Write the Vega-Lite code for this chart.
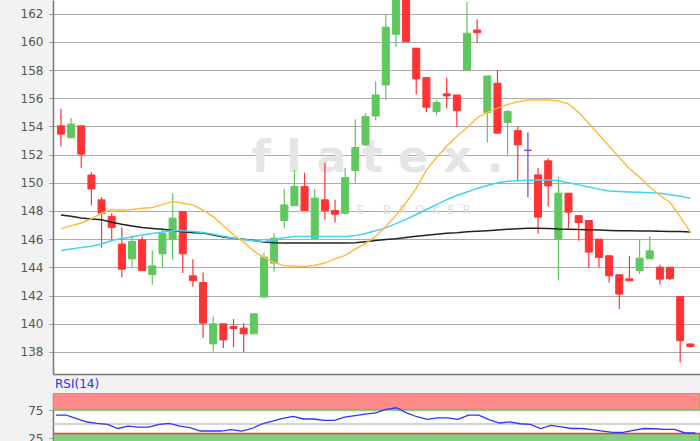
{
  "$schema": "https://vega.github.io/schema/vega-lite/v6.json",
  "background": "#f2f2f2",
  "padding": 0,
  "spacing": 4,
  "config": {
    "view": {"stroke": null, "fill": "white"},
    "axis": {"labelFont": "DejaVu Sans", "labelFontSize": 12, "labelColor": "#555555", "tickColor": "#999999", "tickSize": 4, "labelPadding": 6, "domainColor": "#777777", "domainWidth": 1.5, "title": null, "labelOverlap": false},
    "axisY": {"minExtent": 53, "maxExtent": 53},
    "axisX": {"minExtent": 0, "maxExtent": 0}
  },
  "datasets": {
    "ohlc": [
      {"i":0,"open":154.04,"high":155.26,"low":152.6,"close":153.45,"ma_short":146.73,"ma_mid":145.19,"ma_long":147.72,"rsi":66},
      {"i":1,"open":153.2,"high":154.6,"low":153.16,"close":154.16,"ma_short":146.95,"ma_mid":145.3,"ma_long":147.62,"rsi":66},
      {"i":2,"open":154.04,"high":154.04,"low":151.04,"close":152.03,"ma_short":147.15,"ma_mid":145.4,"ma_long":147.5,"rsi":59.5},
      {"i":3,"open":150.55,"high":150.75,"low":148.4,"close":149.56,"ma_short":147.45,"ma_mid":145.5,"ma_long":147.43,"rsi":53.6},
      {"i":4,"open":148.79,"high":148.98,"low":145.4,"close":147.84,"ma_short":147.84,"ma_mid":145.65,"ma_long":147.37,"rsi":51},
      {"i":5,"open":147.6,"high":147.84,"low":145.95,"close":146.82,"ma_short":148.1,"ma_mid":145.9,"ma_long":147.2,"rsi":49.4},
      {"i":6,"open":145.65,"high":146.82,"low":143.3,"close":143.87,"ma_short":148.05,"ma_mid":146.05,"ma_long":147.05,"rsi":42},
      {"i":7,"open":144.6,"high":146.3,"low":144.01,"close":145.83,"ma_short":148.1,"ma_mid":146.15,"ma_long":146.93,"rsi":46.4},
      {"i":8,"open":145.95,"high":146.18,"low":143.77,"close":143.77,"ma_short":148.2,"ma_mid":146.3,"ma_long":146.82,"rsi":44.6},
      {"i":9,"open":143.49,"high":145.2,"low":142.76,"close":144.1,"ma_short":148.24,"ma_mid":146.4,"ma_long":146.76,"rsi":44.6},
      {"i":10,"open":144.96,"high":146.66,"low":144.01,"close":146.42,"ma_short":148.45,"ma_mid":146.5,"ma_long":146.7,"rsi":49.4},
      {"i":11,"open":146.0,"high":149.26,"low":144.5,"close":147.49,"ma_short":148.67,"ma_mid":146.62,"ma_long":146.62,"rsi":51},
      {"i":12,"open":147.96,"high":147.96,"low":143.6,"close":144.96,"ma_short":148.55,"ma_mid":146.6,"ma_long":146.53,"rsi":46.4},
      {"i":13,"open":143.4,"high":144.58,"low":142.64,"close":143.06,"ma_short":148.43,"ma_mid":146.55,"ma_long":146.45,"rsi":43.4},
      {"i":14,"open":142.92,"high":143.63,"low":138.98,"close":140.04,"ma_short":148.05,"ma_mid":146.47,"ma_long":146.43,"rsi":37.5},
      {"i":15,"open":138.57,"high":140.51,"low":138.03,"close":139.99,"ma_short":147.6,"ma_mid":146.35,"ma_long":146.3,"rsi":37.5},
      {"i":16,"open":139.99,"high":139.99,"low":138.27,"close":138.85,"ma_short":146.95,"ma_mid":146.2,"ma_long":146.16,"rsi":37.5},
      {"i":17,"open":139.8,"high":140.33,"low":138.34,"close":139.66,"ma_short":146.3,"ma_mid":146.07,"ma_long":146.07,"rsi":40},
      {"i":18,"open":139.69,"high":140.04,"low":137.99,"close":139.28,"ma_short":145.8,"ma_mid":145.97,"ma_long":146.0,"rsi":37.5},
      {"i":19,"open":139.28,"high":140.7,"low":139.28,"close":140.7,"ma_short":145.15,"ma_mid":145.88,"ma_long":145.9,"rsi":42},
      {"i":20,"open":141.89,"high":145.05,"low":141.89,"close":144.72,"ma_short":144.7,"ma_mid":145.83,"ma_long":145.8,"rsi":50.5},
      {"i":21,"open":144.3,"high":146.43,"low":143.7,"close":146.07,"ma_short":144.35,"ma_mid":145.95,"ma_long":145.75,"rsi":55},
      {"i":22,"open":147.32,"high":149.55,"low":146.78,"close":148.43,"ma_short":144.12,"ma_mid":146.1,"ma_long":145.72,"rsi":60},
      {"i":23,"open":148.38,"high":150.9,"low":148.38,"close":149.73,"ma_short":144.1,"ma_mid":146.18,"ma_long":145.72,"rsi":63.6},
      {"i":24,"open":149.73,"high":150.72,"low":148.03,"close":148.03,"ma_short":144.06,"ma_mid":146.18,"ma_long":145.72,"rsi":59},
      {"i":25,"open":146.02,"high":149.55,"low":146.02,"close":148.91,"ma_short":144.15,"ma_mid":146.18,"ma_long":145.72,"rsi":59},
      {"i":26,"open":148.79,"high":151.4,"low":147.37,"close":148.03,"ma_short":144.3,"ma_mid":146.18,"ma_long":145.72,"rsi":56.6},
      {"i":27,"open":148.03,"high":148.79,"low":147.18,"close":147.77,"ma_short":144.6,"ma_mid":146.18,"ma_long":145.72,"rsi":56.6},
      {"i":28,"open":147.84,"high":151.04,"low":147.84,"close":150.37,"ma_short":144.85,"ma_mid":146.18,"ma_long":145.72,"rsi":62.5},
      {"i":29,"open":150.87,"high":154.51,"low":150.01,"close":152.5,"ma_short":145.3,"ma_mid":146.25,"ma_long":145.75,"rsi":65},
      {"i":30,"open":152.69,"high":154.94,"low":152.6,"close":154.7,"ma_short":145.7,"ma_mid":146.4,"ma_long":145.82,"rsi":67.5},
      {"i":31,"open":154.74,"high":157.18,"low":154.46,"close":156.23,"ma_short":146.2,"ma_mid":146.6,"ma_long":145.9,"rsi":70},
      {"i":32,"open":156.94,"high":161.9,"low":155.88,"close":161.04,"ma_short":146.9,"ma_mid":146.8,"ma_long":145.97,"rsi":76},
      {"i":33,"open":160.54,"high":164.6,"low":159.66,"close":163.9,"ma_short":147.7,"ma_mid":147.1,"ma_long":146.03,"rsi":79},
      {"i":34,"open":164.2,"high":164.5,"low":160.01,"close":160.01,"ma_short":148.6,"ma_mid":147.4,"ma_long":146.12,"rsi":70},
      {"i":35,"open":159.55,"high":159.55,"low":156.28,"close":157.37,"ma_short":149.6,"ma_mid":147.75,"ma_long":146.2,"rsi":63},
      {"i":36,"open":157.46,"high":157.46,"low":155.0,"close":155.36,"ma_short":150.9,"ma_mid":148.1,"ma_long":146.28,"rsi":58.4},
      {"i":37,"open":155.05,"high":155.88,"low":154.82,"close":155.69,"ma_short":151.8,"ma_mid":148.45,"ma_long":146.35,"rsi":61},
      {"i":38,"open":156.31,"high":157.46,"low":155.29,"close":156.16,"ma_short":152.6,"ma_mid":148.8,"ma_long":146.42,"rsi":61},
      {"i":39,"open":156.23,"high":156.23,"low":153.99,"close":155.12,"ma_short":153.3,"ma_mid":149.1,"ma_long":146.46,"rsi":58.4},
      {"i":40,"open":158.0,"high":162.85,"low":158.0,"close":160.61,"ma_short":153.9,"ma_mid":149.35,"ma_long":146.52,"rsi":66},
      {"i":41,"open":160.84,"high":161.6,"low":159.94,"close":160.65,"ma_short":154.6,"ma_mid":149.6,"ma_long":146.56,"rsi":66},
      {"i":42,"open":154.98,"high":157.58,"low":152.85,"close":157.58,"ma_short":155.0,"ma_mid":149.8,"ma_long":146.6,"rsi":57.7},
      {"i":43,"open":157.06,"high":158.0,"low":153.52,"close":153.52,"ma_short":155.3,"ma_mid":150.0,"ma_long":146.65,"rsi":51.8},
      {"i":44,"open":154.27,"high":155.17,"low":151.98,"close":155.05,"ma_short":155.55,"ma_mid":150.1,"ma_long":146.7,"rsi":54},
      {"i":45,"open":153.7,"high":153.99,"low":150.09,"close":152.69,"ma_short":155.75,"ma_mid":150.15,"ma_long":146.74,"rsi":50.5},
      {"i":46,"open":152.3,"high":153.56,"low":148.98,"close":152.3,"ma_short":155.88,"ma_mid":150.18,"ma_long":146.78,"rsi":49.4},
      {"i":47,"open":150.56,"high":151.04,"low":146.38,"close":147.56,"ma_short":155.88,"ma_mid":150.2,"ma_long":146.78,"rsi":42},
      {"i":48,"open":151.56,"high":151.74,"low":148.31,"close":149.78,"ma_short":155.88,"ma_mid":150.2,"ma_long":146.76,"rsi":47.7},
      {"i":49,"open":146.0,"high":150.44,"low":143.06,"close":149.26,"ma_short":155.8,"ma_mid":150.15,"ma_long":146.72,"rsi":45},
      {"i":50,"open":149.26,"high":149.26,"low":146.78,"close":147.92,"ma_short":155.6,"ma_mid":150.0,"ma_long":146.7,"rsi":42},
      {"i":51,"open":147.67,"high":147.67,"low":145.88,"close":147.18,"ma_short":155.0,"ma_mid":149.85,"ma_long":146.68,"rsi":42},
      {"i":52,"open":147.32,"high":147.32,"low":143.99,"close":145.08,"ma_short":154.2,"ma_mid":149.7,"ma_long":146.66,"rsi":40},
      {"i":53,"open":146.0,"high":146.0,"low":144.01,"close":144.7,"ma_short":153.4,"ma_mid":149.55,"ma_long":146.64,"rsi":37.5},
      {"i":54,"open":144.82,"high":144.82,"low":142.92,"close":143.4,"ma_short":152.6,"ma_mid":149.42,"ma_long":146.62,"rsi":35},
      {"i":55,"open":143.47,"high":143.47,"low":141.04,"close":142.1,"ma_short":151.8,"ma_mid":149.38,"ma_long":146.6,"rsi":35},
      {"i":56,"open":143.18,"high":144.82,"low":143.04,"close":143.04,"ma_short":151.0,"ma_mid":149.35,"ma_long":146.6,"rsi":38.6},
      {"i":57,"open":143.77,"high":146.0,"low":143.52,"close":144.65,"ma_short":150.4,"ma_mid":149.33,"ma_long":146.58,"rsi":42},
      {"i":58,"open":144.6,"high":146.23,"low":144.6,"close":145.17,"ma_short":149.7,"ma_mid":149.3,"ma_long":146.57,"rsi":41.6},
      {"i":59,"open":144.01,"high":144.18,"low":142.76,"close":143.16,"ma_short":149.1,"ma_mid":149.25,"ma_long":146.56,"rsi":40.5},
      {"i":60,"open":144.01,"high":144.01,"low":143.1,"close":143.2,"ma_short":148.6,"ma_mid":149.15,"ma_long":146.55,"rsi":40.5},
      {"i":61,"open":141.93,"high":141.93,"low":137.25,"close":138.79,"ma_short":147.6,"ma_mid":149.05,"ma_long":146.54,"rsi":34},
      {"i":62,"open":138.56,"high":138.6,"low":138.3,"close":138.38,"ma_short":146.5,"ma_mid":148.9,"ma_long":146.5,"rsi":34}
    ],
    "bands": [
      {"zone": "overbought", "lo": 75, "hi": 105.4},
      {"zone": "oversold", "lo": 0, "hi": 33}
    ]
  },
  "vconcat": [
    {
      "width": 647,
      "height": 374,
      "layer": [
        {
          "data": {"values": [{"i": 31.2, "price": 150.77, "label": "f l a t e x ."}]},
          "mark": {"type": "text", "font": "DejaVu Sans", "fontSize": 44, "fontWeight": "bold", "color": "#e5e5e5", "align": "center", "baseline": "alphabetic"},
          "encoding": {
            "x": {"field": "i", "type": "quantitative", "scale": {"domain": [-0.29, 62.46], "nice": false, "zero": false}, "axis": {"labels": false, "ticks": false, "grid": false, "domain": true, "title": null}},
            "y": {"field": "price", "type": "quantitative", "scale": {"domain": [136.43, 162.97], "nice": false, "zero": false}, "axis": {"values": [138,140,142,144,146,148,150,152,154,156,158,160,162], "tickCount": 30, "grid": true, "gridColor": "#aaaaaa", "gridWidth": 1.2, "title": null, "labelOverlap": false}},
            "text": {"field": "label"}
          }
        },
        {
          "data": {"values": [{"i": 31.0, "price": 147.75, "label": "O\u00a0\u00a0N\u00a0\u00a0L\u00a0\u00a0I\u00a0\u00a0N\u00a0\u00a0E\u00a0\u00a0\u00a0\u00a0\u00a0B\u00a0\u00a0R\u00a0\u00a0O\u00a0\u00a0K\u00a0\u00a0E\u00a0\u00a0R"}]},
          "mark": {"type": "text", "font": "DejaVu Sans", "fontSize": 12, "color": "#e0e0e0", "align": "center", "baseline": "alphabetic"},
          "encoding": {
            "x": {"field": "i", "type": "quantitative"},
            "y": {"field": "price", "type": "quantitative"},
            "text": {"field": "label"}
          }
        },
        {
          "data": {"name": "ohlc"},
          "transform": [{"calculate": "datum.close > datum.open ? 'up' : (datum.close < datum.open ? 'down' : 'flat')", "as": "dir"}],
          "mark": {"type": "rule", "clip": true, "strokeWidth": 1.2},
          "encoding": {
            "x": {"field": "i", "type": "quantitative"},
            "y": {"field": "low", "type": "quantitative"},
            "y2": {"field": "high"},
            "color": {"field": "dir", "type": "nominal", "scale": {"domain": ["up", "down", "flat"], "range": ["#5ec85e", "#ff3333", "#6a3de8"]}, "legend": null}
          }
        },
        {
          "data": {"name": "ohlc"},
          "transform": [{"calculate": "datum.close > datum.open ? 'up' : (datum.close < datum.open ? 'down' : 'flat')", "as": "dir"}],
          "mark": {"type": "bar", "clip": true, "size": 7, "strokeWidth": 1},
          "encoding": {
            "x": {"field": "i", "type": "quantitative"},
            "y": {"field": "open", "type": "quantitative"},
            "y2": {"field": "close"},
            "color": {"field": "dir", "type": "nominal", "legend": null},
            "stroke": {"field": "dir", "type": "nominal", "scale": {"domain": ["up", "down", "flat"], "range": ["#5ec85e", "#ff3333", "#6a3de8"]}, "legend": null}
          }
        },
        {
          "data": {"name": "ohlc"},
          "mark": {"type": "line", "clip": true, "color": "#222222", "strokeWidth": 1.5},
          "encoding": {
            "x": {"field": "i", "type": "quantitative"},
            "y": {"field": "ma_long", "type": "quantitative"}
          }
        },
        {
          "data": {"name": "ohlc"},
          "mark": {"type": "line", "clip": true, "color": "#40d4f8", "strokeWidth": 1.5},
          "encoding": {
            "x": {"field": "i", "type": "quantitative"},
            "y": {"field": "ma_mid", "type": "quantitative"}
          }
        },
        {
          "data": {"name": "ohlc"},
          "mark": {"type": "line", "clip": true, "color": "#ffbb44", "strokeWidth": 1.5},
          "encoding": {
            "x": {"field": "i", "type": "quantitative"},
            "y": {"field": "ma_short", "type": "quantitative"}
          }
        }
      ]
    },
    {
      "width": 647,
      "height": 49,
      "title": {"text": "RSI(14)", "anchor": "start", "frame": "group", "color": "#2b2bff", "font": "DejaVu Sans", "fontSize": 12, "fontWeight": "normal", "offset": 2, "dx": 2},
      "layer": [
        {
          "data": {"name": "bands"},
          "mark": {"type": "rect", "clip": true, "strokeWidth": 1.5},
          "encoding": {
            "y": {"field": "lo", "type": "quantitative", "scale": {"domain": [17.9, 105.4], "nice": false, "zero": false}, "axis": {"values": [25, 75], "tickCount": 10, "grid": false, "title": null, "labelOverlap": false}},
            "y2": {"field": "hi"},
            "fill": {"field": "zone", "type": "nominal", "scale": {"domain": ["overbought", "oversold"], "range": ["#ff8a8a", "#80d080"]}, "legend": null},
            "stroke": {"field": "zone", "type": "nominal", "scale": {"domain": ["overbought", "oversold"], "range": ["#e46a6a", "#5cb85c"]}, "legend": null}
          }
        },
        {
          "data": {"values": [{"level": 50}]},
          "mark": {"type": "rule", "color": "#aaaaaa", "strokeWidth": 1.2},
          "encoding": {
            "y": {"field": "level", "type": "quantitative"}
          }
        },
        {
          "data": {"name": "ohlc"},
          "mark": {"type": "line", "clip": true, "color": "#3333ff", "strokeWidth": 1.3},
          "encoding": {
            "x": {"field": "i", "type": "quantitative", "scale": {"domain": [-0.29, 62.46], "nice": false, "zero": false}, "axis": null},
            "y": {"field": "rsi", "type": "quantitative"}
          }
        }
      ]
    }
  ]
}
